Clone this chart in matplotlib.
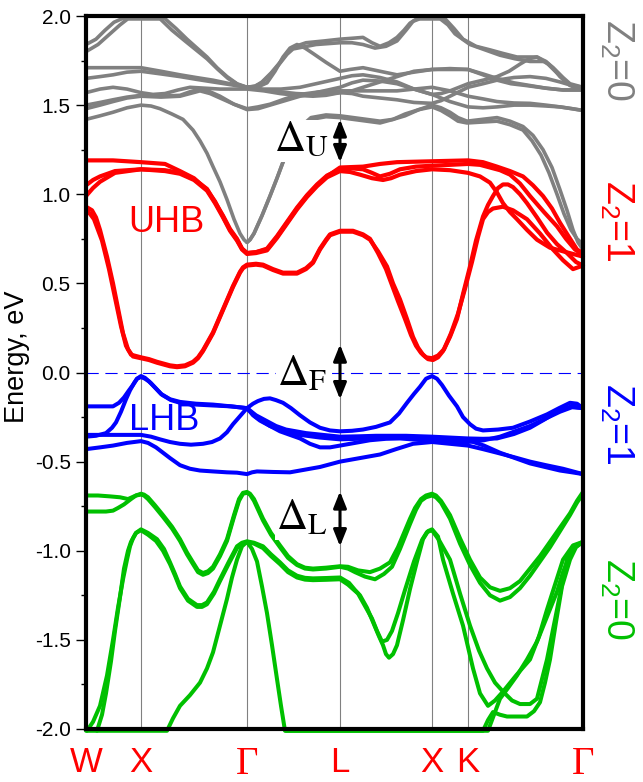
import numpy as np
import matplotlib
matplotlib.use("Agg")
import matplotlib.pyplot as plt

plt.rcParams['font.family'] = ['Liberation Sans', 'DejaVu Sans']
plt.rcParams['mathtext.fontset'] = 'custom'
plt.rcParams['mathtext.rm'] = 'Liberation Sans'
plt.rcParams['mathtext.it'] = 'Liberation Sans:italic'
plt.rcParams['axes.unicode_minus'] = False

# ---------------- data ----------------
kpoint_pos = [0.00, 0.55, 1.61, 2.54, 3.46, 3.82, 4.97]
kpoint_labels = ['W', 'X', 'Γ', 'L', 'X', 'K', 'Γ']
y_ticks = [-2.0, -1.5, -1.0, -0.5, 0.0, 0.5, 1.0, 1.5, 2.0]

# upper Z2=0 bands (gray): (k, E)
gray_a = [(0.00,1.84),(0.10,1.87),(0.19,1.92),(0.28,1.965),(0.36,1.985),(0.79,1.985),(0.90,1.93),(1.01,1.87),(1.11,1.82),(1.21,1.77),(1.31,1.71),(1.41,1.66),(1.51,1.62),(1.61,1.60),(1.71,1.60),(1.81,1.625),(1.89,1.69),(1.97,1.77),(2.04,1.82),(2.11,1.84),(2.19,1.82),(2.27,1.79),(2.40,1.74),(2.54,1.69),(2.64,1.70),(2.77,1.71),(2.94,1.69),(3.11,1.67),(3.28,1.685),(3.46,1.70),(3.64,1.70),(3.82,1.70),(3.97,1.67),(4.11,1.64),(4.25,1.62),(4.40,1.61),(4.60,1.595),(4.77,1.585),(4.97,1.585)]
gray_b = [(0.00,1.80),(0.12,1.84),(0.24,1.90),(0.34,1.95),(0.42,1.985),(0.74,1.985),(0.86,1.92),(0.99,1.86),(1.10,1.81),(1.21,1.76),(1.32,1.70),(1.42,1.65),(1.52,1.615),(1.61,1.60),(1.69,1.605),(1.76,1.63),(1.85,1.68),(1.94,1.74),(2.01,1.79),(2.07,1.825),(2.20,1.85),(2.38,1.86),(2.54,1.87),(2.66,1.875),(2.77,1.88),(2.86,1.85),(2.94,1.83),(3.03,1.85),(3.11,1.88),(3.18,1.92),(3.24,1.96),(3.31,1.985),(3.59,1.985),(3.68,1.93),(3.77,1.87),(3.90,1.83),(4.04,1.81),(4.17,1.79),(4.31,1.77),(4.51,1.77),(4.62,1.73),(4.71,1.68),(4.78,1.64),(4.84,1.61),(4.97,1.585)]
gray_c = [(1.61,1.60),(1.69,1.607),(1.76,1.625),(1.85,1.675),(1.94,1.735),(2.01,1.785),(2.07,1.815),(2.30,1.84),(2.54,1.85),(2.66,1.85),(2.77,1.84),(2.89,1.82),(3.00,1.83),(3.11,1.86),(3.20,1.92),(3.27,1.97),(3.34,1.985),(3.54,1.985),(3.62,1.95),(3.69,1.90),(3.84,1.84),(3.99,1.81),(4.14,1.78),(4.29,1.76),(4.44,1.745),(4.59,1.745),(4.67,1.71),(4.74,1.66),(4.82,1.62),(4.89,1.60),(4.97,1.60)]
gray_d = [(0.00,1.71),(0.27,1.71),(0.55,1.71),(0.75,1.69),(0.94,1.67),(1.10,1.655),(1.27,1.64),(1.44,1.62),(1.61,1.60),(1.78,1.585),(1.94,1.575),(2.10,1.565),(2.27,1.56),(2.40,1.562),(2.54,1.57),(2.66,1.58),(2.77,1.60),(2.94,1.63),(3.11,1.66),(3.28,1.69),(3.46,1.70),(3.64,1.705),(3.82,1.70),(3.97,1.675),(4.11,1.65),(4.28,1.625),(4.44,1.61),(4.60,1.595),(4.77,1.585),(4.97,1.585)]
gray_e = [(0.00,1.65),(0.14,1.66),(0.27,1.67),(0.41,1.685),(0.55,1.69),(0.75,1.675),(0.94,1.66),(1.10,1.645),(1.27,1.63),(1.44,1.615),(1.61,1.60),(1.77,1.59),(1.95,1.59),(2.14,1.60),(2.34,1.625),(2.54,1.65),(2.66,1.665),(2.77,1.67),(2.94,1.655),(3.11,1.63),(3.28,1.59),(3.46,1.56),(3.55,1.565),(3.64,1.58),(3.73,1.60),(3.82,1.62),(3.97,1.64),(4.11,1.66),(4.23,1.69),(4.34,1.73),(4.43,1.76),(4.51,1.77),(4.60,1.745),(4.69,1.70),(4.77,1.655),(4.84,1.62),(4.97,1.60)]
gray_f = [(0.00,1.57),(0.14,1.59),(0.27,1.60),(0.41,1.59),(0.55,1.57),(0.67,1.56),(0.79,1.565),(0.92,1.585),(1.04,1.60),(1.19,1.595),(1.34,1.59),(1.48,1.59),(1.61,1.59),(1.78,1.58),(1.94,1.565),(2.10,1.555),(2.27,1.55),(2.40,1.555),(2.54,1.57),(2.66,1.565),(2.77,1.55),(2.94,1.54),(3.11,1.53),(3.28,1.515),(3.46,1.51),(3.55,1.525),(3.64,1.55),(3.73,1.575),(3.82,1.60),(3.97,1.62),(4.11,1.64),(4.28,1.655),(4.44,1.66),(4.60,1.65),(4.74,1.63),(4.86,1.61),(4.97,1.60)]
gray_g = [(0.00,1.50),(0.14,1.515),(0.27,1.53),(0.41,1.545),(0.55,1.555),(0.75,1.55),(0.94,1.555),(1.04,1.575),(1.14,1.59),(1.24,1.575),(1.34,1.55),(1.48,1.505),(1.61,1.475),(1.72,1.48),(1.84,1.50),(1.99,1.525),(2.14,1.55),(2.34,1.575),(2.54,1.60),(2.66,1.625),(2.77,1.64),(2.94,1.635),(3.11,1.62),(3.28,1.59),(3.46,1.56),(3.55,1.54),(3.64,1.52),(3.73,1.505),(3.82,1.49),(3.97,1.485),(4.11,1.49),(4.28,1.50),(4.44,1.50),(4.60,1.495),(4.74,1.49),(4.86,1.48),(4.97,1.47)]
gray_h = [(0.00,1.48),(0.14,1.50),(0.27,1.52),(0.41,1.54),(0.55,1.55),(0.75,1.545),(0.94,1.55),(1.04,1.565),(1.14,1.58),(1.24,1.565),(1.34,1.54),(1.48,1.505),(1.61,1.48),(1.72,1.49),(1.84,1.505),(1.99,1.535),(2.14,1.56),(2.34,1.575),(2.54,1.58),(2.66,1.58),(2.77,1.58),(2.94,1.58),(3.11,1.58),(3.28,1.59),(3.46,1.60),(3.55,1.59),(3.64,1.58),(3.73,1.565),(3.82,1.55),(3.97,1.535),(4.11,1.52),(4.28,1.512),(4.44,1.51),(4.60,1.50),(4.74,1.49),(4.86,1.48),(4.97,1.47)]
gray_i = [(0.00,1.42),(0.14,1.44),(0.27,1.46),(0.41,1.485),(0.55,1.50),(0.65,1.495),(0.74,1.48),(0.86,1.45),(0.97,1.42),(1.07,1.36),(1.14,1.30),(1.21,1.23),(1.27,1.155),(1.34,1.07),(1.41,0.97),(1.48,0.86),(1.54,0.78),(1.58,0.745),(1.61,0.73),(1.64,0.745),(1.68,0.78),(1.76,0.88),(1.84,0.99),(1.91,1.09),(1.97,1.18),(2.04,1.27),(2.10,1.33),(2.17,1.39),(2.25,1.43),(2.40,1.445),(2.54,1.44),(2.74,1.425),(2.94,1.41),(3.07,1.42),(3.19,1.44),(3.33,1.475),(3.46,1.50),(3.55,1.485),(3.64,1.46),(3.72,1.43),(3.81,1.41),(3.96,1.42),(4.11,1.43),(4.24,1.41),(4.37,1.38),(4.47,1.33),(4.57,1.25),(4.66,1.15),(4.74,1.025),(4.81,0.91),(4.87,0.80),(4.92,0.73),(4.97,0.69)]
gray_j = [(1.61,0.73),(1.64,0.745),(1.68,0.78),(1.76,0.88),(1.84,0.99),(1.91,1.09),(1.97,1.18),(2.04,1.27),(2.10,1.33),(2.17,1.38),(2.25,1.42),(2.40,1.435),(2.54,1.43),(2.74,1.415),(2.94,1.40),(3.07,1.42),(3.19,1.45),(3.33,1.475),(3.46,1.49),(3.55,1.47),(3.64,1.44),(3.72,1.41),(3.81,1.40),(3.96,1.405),(4.11,1.41),(4.24,1.39),(4.37,1.36),(4.46,1.30),(4.55,1.22),(4.63,1.12),(4.71,1.00),(4.78,0.89),(4.85,0.80),(4.91,0.75),(4.97,0.72)]

# UHB (red)
red_a = [(0.00,0.93),(0.06,0.91),(0.10,0.87),(0.14,0.80),(0.21,0.65),(0.27,0.50),(0.32,0.36),(0.37,0.22),(0.42,0.13),(0.47,0.09),(0.55,0.08),(0.63,0.07),(0.71,0.055),(0.84,0.035),(0.91,0.03),(0.99,0.035),(1.07,0.055),(1.12,0.08),(1.17,0.12),(1.27,0.22),(1.37,0.35),(1.47,0.48),(1.54,0.56),(1.57,0.585),(1.61,0.60),(1.70,0.605),(1.77,0.60),(1.87,0.575),(1.97,0.555),(2.11,0.555),(2.20,0.58),(2.27,0.615),(2.34,0.69),(2.40,0.74),(2.44,0.77),(2.54,0.79),(2.67,0.79),(2.77,0.77),(2.84,0.745),(2.92,0.68),(3.01,0.595),(3.07,0.50),(3.14,0.41),(3.21,0.30),(3.27,0.20),(3.32,0.14),(3.37,0.10),(3.42,0.075),(3.47,0.07),(3.52,0.085),(3.57,0.12),(3.64,0.20),(3.71,0.30),(3.77,0.44),(3.84,0.595),(3.90,0.74),(3.97,0.875),(4.02,0.94),(4.07,0.99),(4.12,1.035),(4.17,1.055),(4.22,1.055),(4.27,1.04),(4.34,1.00),(4.41,0.95),(4.51,0.87),(4.61,0.785),(4.71,0.72),(4.81,0.67),(4.90,0.62),(4.97,0.60)]
red_b = [(0.00,0.91),(0.04,0.89),(0.08,0.86),(0.16,0.74),(0.23,0.58),(0.29,0.42),(0.35,0.26),(0.40,0.15),(0.45,0.10),(0.55,0.085),(0.63,0.075),(0.71,0.06),(0.84,0.04),(0.91,0.035),(0.99,0.04),(1.07,0.06),(1.12,0.085),(1.17,0.125),(1.27,0.225),(1.37,0.355),(1.47,0.485),(1.54,0.565),(1.57,0.59),(1.61,0.605),(1.70,0.61),(1.77,0.605),(1.87,0.58),(1.97,0.56),(2.11,0.56),(2.20,0.585),(2.27,0.62),(2.34,0.695),(2.40,0.745),(2.44,0.775),(2.54,0.795),(2.67,0.795),(2.77,0.775),(2.84,0.75),(2.92,0.67),(3.00,0.58),(3.06,0.49),(3.12,0.40),(3.19,0.30),(3.25,0.21),(3.30,0.15),(3.35,0.11),(3.40,0.085),(3.46,0.08),(3.52,0.095),(3.58,0.13),(3.65,0.22),(3.72,0.33),(3.79,0.47),(3.86,0.62),(3.92,0.76),(3.97,0.86),(4.02,0.90),(4.07,0.92),(4.17,0.93),(4.27,0.91),(4.41,0.86),(4.54,0.78),(4.67,0.69),(4.77,0.63),(4.87,0.58),(4.97,0.60)]
red_c = [(0.00,1.19),(0.27,1.19),(0.55,1.18),(0.79,1.17),(0.94,1.13),(1.08,1.09),(1.21,1.025),(1.29,0.96),(1.37,0.875),(1.44,0.80),(1.51,0.745),(1.56,0.695),(1.61,0.67),(1.70,0.675),(1.81,0.69),(1.91,0.76),(2.01,0.84),(2.11,0.92),(2.21,0.99),(2.31,1.05),(2.41,1.10),(2.54,1.15),(2.77,1.155),(2.94,1.17),(3.11,1.18),(3.46,1.185),(3.82,1.19),(3.97,1.18),(4.11,1.155),(4.24,1.13),(4.37,1.10),(4.47,1.05),(4.57,0.99),(4.66,0.92),(4.74,0.84),(4.83,0.76),(4.91,0.69),(4.97,0.67)]
red_d = [(0.00,1.05),(0.07,1.08),(0.14,1.10),(0.29,1.13),(0.55,1.14),(0.79,1.13),(0.94,1.115),(1.08,1.08),(1.21,1.02),(1.29,0.95),(1.37,0.87),(1.44,0.795),(1.51,0.74),(1.56,0.69),(1.61,0.665),(1.70,0.67),(1.81,0.685),(1.91,0.755),(2.01,0.835),(2.11,0.915),(2.21,0.985),(2.31,1.045),(2.41,1.095),(2.54,1.13),(2.64,1.125),(2.74,1.11),(2.86,1.09),(2.97,1.08),(3.05,1.09),(3.14,1.11),(3.30,1.13),(3.46,1.14),(3.64,1.135),(3.82,1.12),(3.94,1.10),(4.04,1.065),(4.11,1.01),(4.17,0.95),(4.24,0.90),(4.31,0.86),(4.41,0.80),(4.51,0.745),(4.64,0.70),(4.77,0.68),(4.87,0.665),(4.97,0.65)]
red_e = [(0.00,0.99),(0.07,1.035),(0.14,1.07),(0.29,1.12),(0.55,1.14),(0.79,1.135),(0.94,1.12),(1.08,1.085),(1.21,1.03),(1.29,0.955),(1.37,0.88),(1.44,0.805),(1.51,0.75),(1.56,0.695),(1.61,0.67),(1.70,0.675),(1.81,0.695),(1.91,0.765),(2.01,0.845),(2.11,0.925),(2.21,0.995),(2.31,1.055),(2.41,1.105),(2.54,1.14),(2.66,1.145),(2.77,1.14),(2.86,1.12),(2.94,1.10),(3.04,1.115),(3.14,1.14),(3.30,1.155),(3.46,1.16),(3.64,1.165),(3.82,1.17),(3.94,1.165),(4.04,1.15),(4.14,1.135),(4.24,1.11),(4.34,1.06),(4.44,0.99),(4.58,0.90),(4.71,0.82),(4.80,0.75),(4.89,0.69),(4.97,0.66)]

# LHB (blue)
blue_a = [(0.00,-0.19),(0.14,-0.19),(0.27,-0.19),(0.33,-0.17),(0.38,-0.14),(0.43,-0.10),(0.47,-0.07),(0.51,-0.035),(0.55,-0.02),(0.59,-0.03),(0.65,-0.06),(0.75,-0.12),(0.84,-0.15),(0.94,-0.165),(1.10,-0.175),(1.27,-0.18),(1.45,-0.19),(1.61,-0.20),(1.67,-0.175),(1.72,-0.16),(1.78,-0.148),(1.84,-0.145),(1.90,-0.155),(1.97,-0.17),(2.05,-0.20),(2.14,-0.24),(2.24,-0.28),(2.34,-0.31),(2.44,-0.325),(2.54,-0.33),(2.66,-0.327),(2.77,-0.32),(2.90,-0.305),(3.04,-0.28),(3.13,-0.23),(3.21,-0.17),(3.28,-0.12),(3.34,-0.08),(3.40,-0.035),(3.46,-0.02),(3.51,-0.035),(3.56,-0.07),(3.63,-0.13),(3.71,-0.19),(3.77,-0.25),(3.84,-0.29),(3.90,-0.315),(3.97,-0.325),(4.12,-0.32),(4.27,-0.31),(4.44,-0.275),(4.61,-0.235),(4.73,-0.20),(4.84,-0.17),(4.91,-0.175),(4.97,-0.20)]
blue_b = [(0.00,-0.36),(0.10,-0.355),(0.20,-0.34),(0.26,-0.31),(0.30,-0.28),(0.35,-0.22),(0.40,-0.15),(0.44,-0.10),(0.48,-0.06),(0.51,-0.035),(0.55,-0.025),(0.59,-0.035),(0.63,-0.05),(0.70,-0.09),(0.76,-0.125),(0.85,-0.155),(0.94,-0.17),(1.10,-0.18),(1.27,-0.185),(1.45,-0.19),(1.61,-0.20),(1.70,-0.24),(1.80,-0.27),(1.90,-0.30),(2.00,-0.32),(2.20,-0.34),(2.37,-0.35),(2.54,-0.36),(2.72,-0.358),(2.90,-0.355),(3.20,-0.355),(3.46,-0.36),(3.64,-0.365),(3.82,-0.37),(3.97,-0.372),(4.11,-0.37),(4.28,-0.345),(4.44,-0.31),(4.58,-0.265),(4.71,-0.22),(4.85,-0.19),(4.97,-0.20)]
blue_c = [(0.00,-0.35),(0.27,-0.35),(0.55,-0.35),(0.65,-0.36),(0.74,-0.375),(0.84,-0.39),(0.94,-0.40),(1.05,-0.405),(1.17,-0.40),(1.26,-0.39),(1.34,-0.37),(1.41,-0.335),(1.47,-0.29),(1.54,-0.245),(1.61,-0.20),(1.67,-0.24),(1.74,-0.27),(1.84,-0.30),(1.94,-0.33),(2.04,-0.35),(2.14,-0.37),(2.24,-0.40),(2.34,-0.42),(2.44,-0.42),(2.54,-0.41),(2.69,-0.395),(2.84,-0.38),(3.00,-0.372),(3.14,-0.37),(3.30,-0.377),(3.46,-0.385),(3.64,-0.39),(3.82,-0.39),(3.98,-0.38),(4.14,-0.36),(4.29,-0.33),(4.44,-0.30),(4.59,-0.26),(4.74,-0.22),(4.86,-0.195),(4.97,-0.20)]
blue_d = [(0.00,-0.43),(0.14,-0.42),(0.27,-0.41),(0.41,-0.395),(0.55,-0.385),(0.62,-0.395),(0.70,-0.42),(0.77,-0.45),(0.84,-0.48),(0.94,-0.52),(1.04,-0.54),(1.14,-0.55),(1.27,-0.555),(1.41,-0.56),(1.51,-0.562),(1.61,-0.57),(1.66,-0.56),(1.71,-0.555),(1.87,-0.558),(2.04,-0.56),(2.19,-0.545),(2.34,-0.53),(2.44,-0.515),(2.54,-0.50),(2.74,-0.48),(2.94,-0.46),(3.10,-0.43),(3.27,-0.40),(3.46,-0.39),(3.64,-0.40),(3.82,-0.41),(3.97,-0.43),(4.11,-0.45),(4.28,-0.475),(4.44,-0.50),(4.60,-0.52),(4.77,-0.54),(4.87,-0.555),(4.97,-0.57)]
blue_e = [(1.61,-0.20),(1.70,-0.25),(1.84,-0.30),(1.99,-0.33),(2.14,-0.35),(2.34,-0.365),(2.54,-0.375),(2.72,-0.372),(2.90,-0.37),(3.05,-0.365),(3.20,-0.36),(3.33,-0.363),(3.46,-0.37),(3.64,-0.375),(3.82,-0.38),(3.98,-0.41),(4.14,-0.45),(4.29,-0.48),(4.44,-0.51),(4.59,-0.53),(4.74,-0.55),(4.86,-0.56),(4.97,-0.57)]

# lower Z2=0 bands (green)
green_a = [(0.00,-0.69),(0.12,-0.69),(0.24,-0.695),(0.34,-0.70),(0.42,-0.71),(0.46,-0.70),(0.50,-0.69),(0.55,-0.68),(0.58,-0.685),(0.62,-0.70),(0.69,-0.745),(0.77,-0.80),(0.86,-0.865),(0.94,-0.935),(1.01,-1.01),(1.07,-1.065),(1.12,-1.11),(1.17,-1.125),(1.22,-1.115),(1.27,-1.09),(1.34,-1.02),(1.41,-0.935),(1.48,-0.80),(1.53,-0.71),(1.57,-0.675),(1.61,-0.67),(1.64,-0.68),(1.68,-0.71),(1.77,-0.82),(1.85,-0.90),(1.94,-0.97),(2.02,-1.03),(2.11,-1.075),(2.19,-1.095),(2.27,-1.10),(2.40,-1.095),(2.54,-1.087),(2.62,-1.09),(2.72,-1.11),(2.84,-1.12),(2.94,-1.10),(3.04,-1.065),(3.12,-0.98),(3.18,-0.90),(3.24,-0.82),(3.29,-0.76),(3.35,-0.71),(3.40,-0.69),(3.46,-0.68),(3.50,-0.69),(3.55,-0.72),(3.64,-0.80),(3.74,-0.93),(3.84,-1.05),(3.94,-1.15),(4.04,-1.205),(4.14,-1.225),(4.24,-1.21),(4.34,-1.17),(4.44,-1.10),(4.54,-1.03),(4.64,-0.95),(4.74,-0.87),(4.84,-0.79),(4.91,-0.72),(4.97,-0.67)]
green_b = [(0.00,-0.78),(0.10,-0.78),(0.20,-0.78),(0.27,-0.775),(0.32,-0.76),(0.38,-0.74),(0.45,-0.71),(0.50,-0.69),(0.55,-0.685),(0.58,-0.69),(0.62,-0.71),(0.69,-0.755),(0.77,-0.81),(0.86,-0.875),(0.94,-0.945),(1.01,-1.02),(1.07,-1.075),(1.12,-1.12),(1.17,-1.135),(1.22,-1.125),(1.27,-1.10),(1.34,-1.03),(1.41,-0.945),(1.48,-0.81),(1.53,-0.72),(1.57,-0.68),(1.61,-0.675),(1.64,-0.685),(1.68,-0.72),(1.77,-0.83),(1.85,-0.91),(1.94,-0.98),(2.02,-1.04),(2.11,-1.08),(2.19,-1.10),(2.27,-1.105),(2.40,-1.10),(2.54,-1.09),(2.62,-1.10),(2.69,-1.12),(2.79,-1.145),(2.89,-1.16),(2.98,-1.13),(3.06,-1.09),(3.14,-0.99),(3.19,-0.92),(3.24,-0.85),(3.30,-0.77),(3.35,-0.72),(3.40,-0.70),(3.46,-0.69),(3.50,-0.70),(3.55,-0.73),(3.64,-0.82),(3.74,-0.96),(3.84,-1.08),(3.94,-1.18),(4.04,-1.25),(4.14,-1.28),(4.24,-1.26),(4.34,-1.21),(4.44,-1.14),(4.54,-1.06),(4.64,-0.98),(4.74,-0.89),(4.84,-0.80),(4.91,-0.73),(4.97,-0.68)]
green_c = [(0.01,-2.01),(0.07,-1.96),(0.14,-1.87),(0.21,-1.70),(0.27,-1.50),(0.32,-1.32),(0.37,-1.16),(0.41,-1.05),(0.44,-0.975),(0.47,-0.93),(0.50,-0.90),(0.55,-0.88),(0.62,-0.90),(0.71,-0.935),(0.78,-0.99),(0.84,-1.065),(0.89,-1.13),(0.94,-1.20),(1.02,-1.27),(1.11,-1.305),(1.16,-1.305),(1.21,-1.29),(1.28,-1.23),(1.34,-1.16),(1.43,-1.06),(1.51,-0.975),(1.56,-0.955),(1.61,-0.947),(1.68,-0.955),(1.77,-0.975),(1.85,-1.02),(1.94,-1.065),(2.02,-1.11),(2.11,-1.14),(2.19,-1.152),(2.27,-1.155),(2.40,-1.153),(2.54,-1.15),(2.63,-1.18),(2.69,-1.22),(2.74,-1.25),(2.81,-1.32),(2.87,-1.40),(2.93,-1.48),(2.97,-1.53),(3.00,-1.58),(3.03,-1.60),(3.07,-1.58),(3.11,-1.53),(3.17,-1.39),(3.24,-1.215),(3.31,-1.06),(3.37,-0.935),(3.42,-0.89),(3.46,-0.88),(3.52,-0.92),(3.57,-1.05),(3.67,-1.24),(3.77,-1.42),(3.87,-1.66),(3.94,-1.80),(4.02,-1.87),(4.09,-1.84),(4.17,-1.79),(4.30,-1.70),(4.44,-1.61),(4.53,-1.48),(4.61,-1.33),(4.69,-1.19),(4.77,-1.05),(4.87,-0.97),(4.97,-0.95)]
green_d = [(0.11,-2.01),(0.16,-1.92),(0.20,-1.80),(0.25,-1.62),(0.29,-1.45),(0.34,-1.26),(0.38,-1.10),(0.42,-1.00),(0.45,-0.95),(0.50,-0.90),(0.55,-0.885),(0.62,-0.91),(0.70,-0.945),(0.77,-1.00),(0.84,-1.075),(0.89,-1.14),(0.94,-1.21),(1.02,-1.28),(1.11,-1.315),(1.16,-1.315),(1.21,-1.30),(1.28,-1.24),(1.34,-1.17),(1.43,-1.07),(1.51,-0.985),(1.56,-0.96),(1.61,-0.95),(1.68,-0.96),(1.77,-0.985),(1.85,-1.03),(1.94,-1.075),(2.02,-1.12),(2.11,-1.15),(2.19,-1.162),(2.27,-1.165),(2.40,-1.163),(2.54,-1.16),(2.62,-1.19),(2.68,-1.22),(2.72,-1.24),(2.79,-1.31),(2.86,-1.38),(2.91,-1.45),(2.96,-1.51),(3.01,-1.50),(3.06,-1.45),(3.12,-1.35),(3.19,-1.22),(3.28,-1.06),(3.36,-0.94),(3.41,-0.895),(3.46,-0.885),(3.53,-0.94),(3.64,-1.05),(3.74,-1.24),(3.84,-1.42),(3.93,-1.56),(4.01,-1.66),(4.09,-1.74),(4.17,-1.79),(4.26,-1.84),(4.34,-1.86),(4.44,-1.86),(4.51,-1.83),(4.56,-1.72),(4.61,-1.61),(4.66,-1.47),(4.71,-1.33),(4.76,-1.19),(4.81,-1.05),(4.89,-0.98),(4.97,-0.95)]
green_e = [(0.00,-2.01),(0.81,-2.01),(0.87,-1.94),(0.94,-1.87),(1.04,-1.81),(1.14,-1.74),(1.21,-1.66),(1.27,-1.57),(1.34,-1.42),(1.41,-1.27),(1.46,-1.15),(1.51,-1.05),(1.56,-0.975),(1.61,-0.95),(1.66,-0.99),(1.71,-1.06),(1.76,-1.20),(1.81,-1.35),(1.86,-1.53),(1.91,-1.72),(1.95,-1.87),(1.99,-2.01),(3.97,-2.01),(4.02,-1.95),(4.07,-1.905),(4.14,-1.92),(4.21,-1.93),(4.41,-1.93),(4.48,-1.90),(4.54,-1.85),(4.59,-1.74),(4.64,-1.61),(4.70,-1.40),(4.76,-1.20),(4.84,-1.05),(4.90,-0.98),(4.97,-0.95)]
green_f = [(2.00,-2.01),(4.02,-2.01),(4.08,-1.92),(4.14,-1.83),(4.22,-1.77),(4.31,-1.70),(4.41,-1.61),(4.51,-1.51),(4.61,-1.37),(4.71,-1.23),(4.77,-1.12),(4.84,-1.02),(4.90,-0.97),(4.97,-0.95)]

gray_bands = [gray_a, gray_b, gray_c, gray_d, gray_e, gray_f, gray_g, gray_h, gray_i, gray_j]
red_bands = [red_a, red_b, red_c, red_d, red_e]
blue_bands = [blue_a, blue_b, blue_c, blue_d, blue_e]
green_bands = [green_a, green_b, green_c, green_d, green_e, green_f]

C_GRAY = '#808080'
C_RED = '#ff0000'
C_BLUE = '#0000ff'
C_GREEN = '#00c000'

# ---------------- figure ----------------
W, H = 643, 782
fig = plt.figure(figsize=(W/100, H/100), dpi=100)
L, R, T, B = 86, 583, 16, 729
ax = fig.add_axes([L/W, 1-B/H, (R-L)/W, (B-T)/H])
ax.set_xlim(kpoint_pos[0], kpoint_pos[-1])
ax.set_ylim(-2, 2)

for kp in kpoint_pos[1:-1]:
    ax.axvline(kp, color=C_GRAY, lw=0.8, zorder=1)
ax.axhline(0, color=C_BLUE, lw=0.8, dashes=(11, 6), zorder=1)

def draw(bands, color, lw=2.9):
    for b in bands:
        arr = np.array(b)
        ax.plot(arr[:, 0], arr[:, 1], color=color, lw=lw, clip_on=False,
                solid_joinstyle='round', solid_capstyle='round', zorder=2)

draw(gray_bands, C_GRAY, 2.6)
draw(red_bands, C_RED, 3.0)
draw(blue_bands, C_BLUE, 2.9)
draw(green_bands, C_GREEN, 2.9)

for s in ax.spines.values():
    s.set_linewidth(3.0)
    s.set_zorder(5)

ax.set_yticks(y_ticks)
ax.set_yticklabels([f'{v:.1f}' for v in y_ticks])
ax.set_yticks(np.arange(-1.75, 2.0, 0.5), minor=True)
ax.tick_params(axis='y', which='major', direction='out', length=7, width=1, labelsize=15, pad=4)
ax.tick_params(axis='y', which='minor', direction='out', length=3.5, width=1)
ax.set_xticks(kpoint_pos)
ax.set_xticklabels(kpoint_labels)
ax.tick_params(axis='x', length=0, pad=12, labelsize=25, labelcolor=C_RED)
for lab in ax.get_xticklabels():
    if lab.get_text() == 'Γ':
        lab.set_fontfamily('Liberation Serif')
        lab.set_fontsize(28)

ax.set_ylabel('Energy, eV', fontsize=19.5)
ax.yaxis.set_label_coords(-0.113, 0.522)

# band labels
ax.text(0.80, 0.84, 'UHB', color=C_RED, fontsize=26, ha='center', va='center', zorder=4)
ax.text(0.78, -0.27, 'LHB', color=C_BLUE, fontsize=26, ha='center', va='center', zorder=4)

# gap labels
box = dict(facecolor='white', edgecolor='none', pad=0.5)
ax.text(2.15, 1.30, r'$\Delta_{\mathrm{U}}$', fontsize=31, ha='center', va='center',
        math_fontfamily='stix', bbox=box, zorder=6)
ax.text(2.16, -0.01, r'$\Delta_{\mathrm{F}}$', fontsize=31, ha='center', va='center',
        math_fontfamily='stix', bbox=box, zorder=6)
ax.text(2.16, -0.82, r'$\Delta_{\mathrm{L}}$', fontsize=31, ha='center', va='center',
        math_fontfamily='stix', bbox=box, zorder=6)

ap = dict(arrowstyle='<|-|>,head_length=0.7,head_width=0.28', color='black', lw=2.2,
          shrinkA=0, shrinkB=0, mutation_scale=14)
for lo, hi in [(1.18, 1.42), (-0.15, 0.157), (-0.975, -0.667)]:
    ax.annotate('', xy=(kpoint_pos[3], hi), xytext=(kpoint_pos[3], lo), arrowprops=ap, zorder=7)

# Z2 labels on the right
trans = ax.get_yaxis_transform()
for yv, txt, c in [(1.75, r'Z$_2$=0', C_GRAY), (0.85, r'Z$_2$=1', C_RED),
                   (-0.29, r'Z$_2$=1', C_BLUE), (-1.27, r'Z$_2$=0', C_GREEN)]:
    ax.text(1.068, yv, txt, transform=trans, rotation=-90, color=c, fontsize=27,
            ha='center', va='center')

fig.savefig('out.png', dpi=100)
